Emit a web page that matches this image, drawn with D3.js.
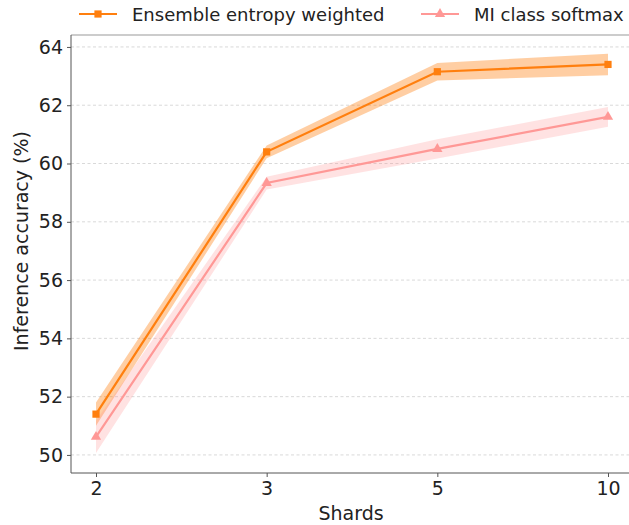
<!DOCTYPE html>
<html>
<head>
<meta charset="utf-8">
<script src="https://cdn.jsdelivr.net/npm/d3@7"></script>
<style>
  body { margin: 0; background: #fff; }
  svg { display: block; font-family: "DejaVu Sans", sans-serif; }
</style>
</head>
<body>
<svg id="chart" width="629" height="525"></svg>
<script>
// Shard counts on the x axis
const shards = ["2", "3", "5", "10"];
// Mean inference accuracy (%) per method
const ensembleMean = [51.4, 60.4, 63.15, 63.4];
const ensembleSpread = [0.4, 0.22, 0.3, 0.37];
const miMean = [50.62, 59.33, 60.5, 61.6];
const miSpread = [0.55, 0.22, 0.33, 0.34];
const yTicks = [50, 52, 54, 56, 58, 60, 62, 64];

const series = [
  { name: "Ensemble entropy weighted", mean: ensembleMean, spread: ensembleSpread,
    color: "#ff7f0e", bandOpacity: 0.38, marker: d3.symbolSquare },
  { name: "MI class softmax", mean: miMean, spread: miSpread,
    color: "#ff9896", bandOpacity: 0.28, marker: d3.symbolTriangle }
];

const svg = d3.select("#chart");
const plotLeft = 71, plotRight = 629, plotTop = 35, plotBottom = 473;

const x = d3.scalePoint().domain(shards).range([96, 608]);
const y = d3.scaleLinear().domain([49.38, 64.41]).range([plotBottom, plotTop]);

// horizontal dashed grid
svg.append("g").selectAll("line").data(yTicks).join("line")
  .attr("x1", plotLeft).attr("x2", plotRight)
  .attr("y1", d => y(d)).attr("y2", d => y(d))
  .attr("stroke", "#cfcfcf").attr("stroke-width", 0.8)
  .attr("stroke-dasharray", "3,2.5");

// spines
svg.append("line").attr("x1", plotLeft).attr("x2", plotRight).attr("y1", plotTop).attr("y2", plotTop)
  .attr("stroke", "#999").attr("stroke-width", 1.2);
svg.append("line").attr("x1", plotLeft).attr("x2", plotRight).attr("y1", plotBottom).attr("y2", plotBottom)
  .attr("stroke", "#555").attr("stroke-width", 1);
svg.append("line").attr("x1", plotLeft).attr("x2", plotLeft).attr("y1", plotTop).attr("y2", plotBottom)
  .attr("stroke", "#555").attr("stroke-width", 1);

// y axis
const yAxis = svg.append("g").attr("transform", `translate(${plotLeft},0)`)
  .call(d3.axisLeft(y).tickValues(yTicks).tickSize(4).tickPadding(4));
yAxis.select(".domain").remove();
yAxis.selectAll(".tick line").attr("stroke", "#555");
yAxis.selectAll(".tick text").attr("font-size", 19).attr("fill", "#222")
  .attr("font-family", "DejaVu Sans, sans-serif");

// x axis
const xAxis = svg.append("g").attr("transform", `translate(0,${plotBottom})`)
  .call(d3.axisBottom(x).tickSize(4).tickPadding(5));
xAxis.select(".domain").remove();
xAxis.selectAll(".tick line").attr("stroke", "#555");
xAxis.selectAll(".tick text").attr("font-size", 19).attr("fill", "#222")
  .attr("font-family", "DejaVu Sans, sans-serif");

// axis titles
svg.append("text").attr("x", 351).attr("y", 520)
  .attr("text-anchor", "middle").attr("font-size", 19).attr("fill", "#222").text("Shards");
svg.append("text").attr("transform", "translate(28,241) rotate(-90)")
  .attr("text-anchor", "middle").attr("font-size", 19).attr("fill", "#222")
  .text("Inference accuracy (%)");

const area = d3.area()
  .x((d, i) => x(shards[i]))
  .y0(d => y(d.m - d.s))
  .y1(d => y(d.m + d.s));
const line = d3.line().x((d, i) => x(shards[i])).y(d => y(d));

series.forEach(s => {
  const pts = s.mean.map((m, i) => ({ m, s: s.spread[i] }));
  svg.append("path").datum(pts).attr("d", area)
    .attr("fill", s.color).attr("fill-opacity", s.bandOpacity);
});
series.forEach(s => {
  svg.append("path").datum(s.mean).attr("d", line)
    .attr("fill", "none").attr("stroke", s.color).attr("stroke-width", 2.2);
  svg.append("g").selectAll("path").data(s.mean).join("path")
    .attr("transform", (d, i) => `translate(${x(shards[i])},${y(d)})`)
    .attr("d", d3.symbol().type(s.marker).size(s.marker === d3.symbolSquare ? 52 : 46))
    .attr("fill", s.color);
});

// legend above the plot
const legendPos = [79, 421];
series.forEach((s, i) => {
  const g = svg.append("g").attr("transform", `translate(${legendPos[i]},14)`);
  g.append("line").attr("x1", 0).attr("x2", 38).attr("y1", 0).attr("y2", 0)
    .attr("stroke", s.color).attr("stroke-width", 2.2);
  g.append("path").attr("transform", "translate(19,0)")
    .attr("d", d3.symbol().type(s.marker).size(s.marker === d3.symbolSquare ? 52 : 46))
    .attr("fill", s.color);
  g.append("text").attr("x", 53).attr("y", 6.5).attr("font-size", 18).attr("fill", "#222")
    .text(s.name);
});
</script>
</body>
</html>
